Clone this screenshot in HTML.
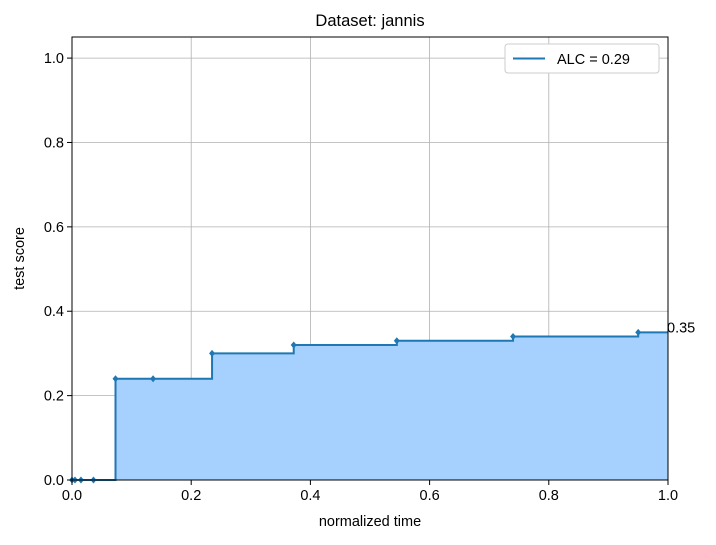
<!DOCTYPE html>
<html><head><meta charset="utf-8"><style>body{margin:0;background:#fff}svg{font-family:"Liberation Sans","DejaVu Sans",sans-serif}</style></head>
<body>
<svg id="chart" width="716" height="540"></svg>
<script>
const times=[0,0.005,0.015,0.036,0.073,0.136,0.235,0.372,0.545,0.74,0.95];
const scores=[0,0,0,0,0.24,0.24,0.30,0.32,0.33,0.34,0.35];
const xTicks=[0,0.2,0.4,0.6,0.8,1.0];
const xTickLabels=["0.0","0.2","0.4","0.6","0.8","1.0"];
const yTicks=[0,0.2,0.4,0.6,0.8,1.0];
const yTickLabels=["0.0","0.2","0.4","0.6","0.8","1.0"];
const legendLabel="ALC = 0.29";
const finalLabel="0.35";
const L=72,R=668,T=37,B=480;
const X=v=>L+v*(R-L);
const Y=v=>B-v/1.05*(B-T);
const ns="http://www.w3.org/2000/svg";
const svg=document.getElementById('chart');
function mk(t,a,p){const e=document.createElementNS(ns,t);for(const k in a)e.setAttribute(k,a[k]);(p||svg).appendChild(e);return e;}
xTicks.forEach((v,i)=>{const g=mk('line',{x1:X(v),x2:X(v),y1:T,y2:B,stroke:'#b0b0b0','stroke-width':0.8});

});
yTicks.forEach((v,i)=>{const g=mk('line',{x1:L,x2:R,y1:Y(v),y2:Y(v),stroke:'#b0b0b0','stroke-width':0.8});

});
let d=`M${X(times[0])},${Y(scores[0])}`;
for(let i=1;i<times.length;i++){d+=`H${X(times[i])}V${Y(scores[i])}`;}
d+=`H${X(1)}`;
const area=mk('path',{d:d+`V${Y(0)}H${X(times[0])}Z`,fill:'#a6d1fe',stroke:'none'});


const line=mk('path',{d:d,fill:'none',stroke:'#1f77b4','stroke-width':2});


times.forEach((t,i)=>{const m=mk('path',{d:`M${X(t)},${Y(scores[i])-3.5}l3,3.5l-3,3.5l-3,-3.5z`,fill:'#1f77b4'});

});
const fl=mk('text',{x:X(1)-1,y:Y(scores[scores.length-1])+0,'font-size':14.5});fl.textContent=finalLabel;


const fr=mk('rect',{x:L,y:T,width:R-L,height:B-T,fill:'none',stroke:'#000','stroke-width':1});


xTicks.forEach((v,i)=>{mk('line',{x1:X(v),x2:X(v),y1:B,y2:B+5,stroke:'#000'});
const t=mk('text',{x:X(v),y:B+20,'text-anchor':'middle','font-size':14.5});t.textContent=xTickLabels[i];

});
yTicks.forEach((v,i)=>{mk('line',{x1:L-5,x2:L,y1:Y(v),y2:Y(v),stroke:'#000'});
const t=mk('text',{x:L-8,y:Y(v)+5,'text-anchor':'end','font-size':14.5});t.textContent=yTickLabels[i];

});
const ti=mk('text',{x:(L+R)/2,y:26,'text-anchor':'middle','font-size':16.5});ti.textContent='Dataset: jannis';


const xt=mk('text',{x:(L+R)/2,y:526,'text-anchor':'middle','font-size':14.5});xt.textContent='normalized time';


const yt=mk('text',{x:24,y:(T+B)/2,'text-anchor':'middle','font-size':14.5,transform:`rotate(-90 24 ${(T+B)/2})`});yt.textContent='test score';


const lg=mk('g',{});


mk('rect',{x:505,y:44,width:154,height:29,rx:3,fill:'#fff',stroke:'#ccc'},lg);
mk('line',{x1:513,x2:545,y1:58.5,y2:58.5,stroke:'#1f77b4','stroke-width':2},lg);
const lt=mk('text',{x:557,y:64,'font-size':14.5},lg);lt.textContent=legendLabel;


</script>
</body></html>
